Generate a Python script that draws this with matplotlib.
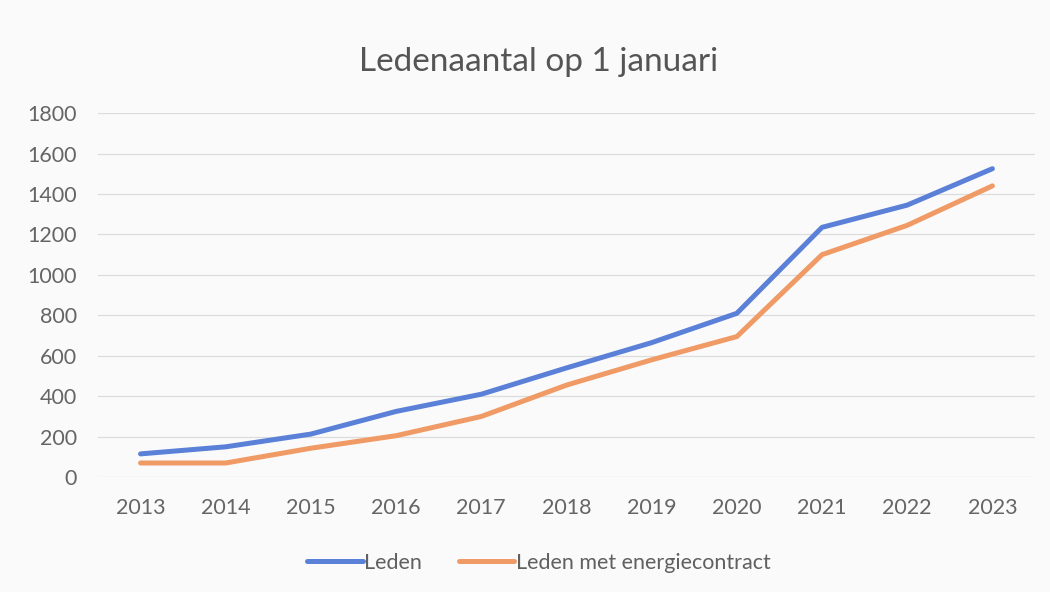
import matplotlib.pyplot as plt

jaren = ['2013', '2014', '2015', '2016', '2017', '2018', '2019', '2020', '2021', '2022', '2023']
leden = [115, 150, 213, 325, 410, 540, 665, 810, 1235, 1345, 1525]
leden_energie = [70, 70, 143, 205, 300, 455, 580, 695, 1100, 1245, 1440]

plt.rcParams['font.family'] = ['Lato', 'DejaVu Sans']

fig = plt.figure(figsize=(10.5, 5.92), dpi=100, facecolor='#fafafa')
ax = fig.add_axes([0.0933, 0.194, 0.8924, 0.615])
ax.set_facecolor('#fafafa')

x = range(len(jaren))
ax.plot(x, leden, color='#5b80d8', lw=3.6, label='Leden', solid_capstyle='round')
ax.plot(x, leden_energie, color='#f09a66', lw=3.6, label='Leden met energiecontract', solid_capstyle='round')

ax.set_xlim(-0.5, len(jaren) - 0.5)
ax.set_ylim(0, 1800)
ax.set_yticks(range(0, 1801, 200))
ax.set_xticks(list(x))
ax.set_xticklabels(jaren)
ax.grid(axis='y', color='#dcdcdc', lw=0.9)
ax.set_axisbelow(True)
for s in ax.spines.values():
    s.set_visible(False)
ax.tick_params(length=0, labelsize=15.5, colors='#656565')
ax.tick_params(axis='y', pad=15)
ax.tick_params(axis='x', pad=15)

fig.text(0.513, 0.895, 'Ledenaantal op 1 januari', ha='center', va='center',
         fontsize=24, color='#555555')

fig.legend(loc='center', bbox_to_anchor=(0.513, 0.049), ncol=2, frameon=False,
           fontsize=15.5, handlelength=2.6, handletextpad=0.05, columnspacing=1.7,
           labelcolor='#606060')

fig.savefig('out.png', dpi=100, facecolor=fig.get_facecolor())
